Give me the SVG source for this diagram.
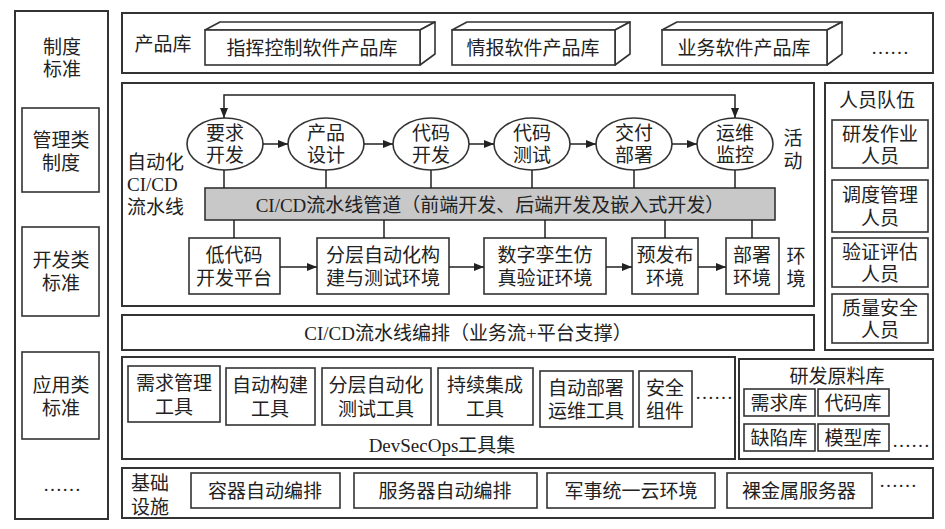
<svg xmlns="http://www.w3.org/2000/svg" width="945" height="529" viewBox="0 0 945 529">
<defs>
<marker id="ah" viewBox="0 0 10 8" refX="10" refY="4" markerWidth="10" markerHeight="8" markerUnits="userSpaceOnUse" orient="auto">
<path d="M0,0 L10,4 L0,8 Z" fill="#222"/>
</marker>
<style>
text{font-family:"Liberation Serif","Noto Sans CJK SC",serif;font-size:19px;fill:#222;text-anchor:middle;dominant-baseline:central}
.st{text-anchor:start}
.ob{fill:#fff;stroke:#333;stroke-width:2}
.ib{fill:#fff;stroke:#333;stroke-width:1.6}
.bar{fill:#c8c8c8;stroke:#333;stroke-width:1.6}
.face{fill:#fff;stroke:#333;stroke-width:1.6;stroke-linejoin:round}
.ln{fill:none;stroke:#222;stroke-width:1.5}
.ar{fill:none;stroke:#222;stroke-width:1.5;marker-end:url(#ah)}
</style>
</defs>
<rect width="945" height="529" fill="#fff"/>

<g id="standards">
<rect class="ob" x="15" y="11" width="93" height="508"/>
<text x="62" y="47">制度</text><text x="62" y="69">标准</text>
<text x="62" y="484">……</text>
</g>
<g id="mgmt-std"><rect class="ib" x="22" y="108" width="77" height="84"/><text x="61" y="140">管理类</text><text x="61" y="163">制度</text></g>
<g id="dev-std"><rect class="ib" x="22" y="227" width="77" height="89"/><text x="61" y="260">开发类</text><text x="61" y="283">标准</text></g>
<g id="app-std"><rect class="ib" x="22" y="352" width="77" height="87"/><text x="61" y="385">应用类</text><text x="61" y="408">标准</text></g>

<g id="product-lib">
<rect class="ob" x="122" y="13" width="811" height="60"/>
<text x="163" y="44">产品库</text>
<text x="890" y="47">……</text>
</g>
<g id="prod1">
<polygon class="face" points="205,30 220,22 435,22 420,30"/>
<polygon class="face" points="420,30 435,22 435,54 420,65"/>
<rect class="ib" x="205" y="30" width="215" height="35"/>
<text x="312" y="48">指挥控制软件产品库</text>
</g>
<g id="prod2">
<polygon class="face" points="452,30 467,22 630,22 615,30"/>
<polygon class="face" points="615,30 630,22 630,54 615,65"/>
<rect class="ib" x="452" y="30" width="163" height="35"/>
<text x="533" y="48">情报软件产品库</text>
</g>
<g id="prod3">
<polygon class="face" points="662,30 677,22 842,22 827,30"/>
<polygon class="face" points="827,30 842,22 842,54 827,65"/>
<rect class="ib" x="662" y="30" width="165" height="35"/>
<text x="744" y="48">业务软件产品库</text>
</g>

<g id="cicd-area">
<rect class="ob" x="122" y="83" width="692" height="223"/>
<text class="st" x="127" y="162">自动化</text>
<text class="st" x="127" y="184">CI/CD</text>
<text class="st" x="127" y="207">流水线</text>
<text x="793" y="138">活</text><text x="793" y="161">动</text>
<text x="796" y="256">环</text><text x="796" y="279">境</text>
</g>

<g id="people">
<rect class="ob" x="825" y="83" width="108" height="267"/>
<text x="877" y="100">人员队伍</text>
</g>
<g id="p1"><rect class="ib" x="832" y="120" width="96" height="48"/><text x="880" y="134">研发作业</text><text x="880" y="156">人员</text></g>
<g id="p2"><rect class="ib" x="832" y="180" width="96" height="52"/><text x="880" y="195">调度管理</text><text x="880" y="218">人员</text></g>
<g id="p3"><rect class="ib" x="832" y="238" width="96" height="49"/><text x="880" y="252">验证评估</text><text x="880" y="274">人员</text></g>
<g id="p4"><rect class="ib" x="832" y="294" width="96" height="49"/><text x="880" y="308">质量安全</text><text x="880" y="330">人员</text></g>

<g id="a1"><ellipse class="ib" cx="225" cy="144" rx="38" ry="26"/><text x="225" y="133">要求</text><text x="225" y="155">开发</text></g>
<g id="a2"><ellipse class="ib" cx="326" cy="144" rx="38" ry="26"/><text x="326" y="133">产品</text><text x="326" y="155">设计</text></g>
<g id="a3"><ellipse class="ib" cx="431" cy="144" rx="38" ry="26"/><text x="431" y="133">代码</text><text x="431" y="155">开发</text></g>
<g id="a4"><ellipse class="ib" cx="532" cy="144" rx="38" ry="26"/><text x="532" y="133">代码</text><text x="532" y="155">测试</text></g>
<g id="a5"><ellipse class="ib" cx="634" cy="144" rx="38" ry="26"/><text x="634" y="133">交付</text><text x="634" y="155">部署</text></g>
<g id="a6"><ellipse class="ib" cx="735" cy="144" rx="38" ry="26"/><text x="735" y="133">运维</text><text x="735" y="155">监控</text></g>

<g id="pipeline"><rect class="bar" x="205" y="188" width="570" height="32"/><text x="490" y="205">CI/CD流水线管道（前端开发、后端开发及嵌入式开发）</text></g>

<g id="e1"><rect class="ib" x="189" y="238" width="91" height="56"/><text x="234" y="255">低代码</text><text x="234" y="278">开发平台</text></g>
<g id="e2"><rect class="ib" x="317" y="238" width="132" height="56"/><text x="383" y="255">分层自动化构</text><text x="383" y="278">建与测试环境</text></g>
<g id="e3"><rect class="ib" x="484" y="238" width="122" height="56"/><text x="545" y="255">数字孪生仿</text><text x="545" y="278">真验证环境</text></g>
<g id="e4"><rect class="ib" x="632" y="238" width="66" height="56"/><text x="665" y="255">预发布</text><text x="665" y="278">环境</text></g>
<g id="e5"><rect class="ib" x="726" y="238" width="53" height="56"/><text x="752" y="255">部署</text><text x="752" y="278">环境</text></g>

<g id="orchestration"><rect class="ob" x="122" y="315" width="692" height="35"/><text x="468" y="333">CI/CD流水线编排（业务流+平台支撑）</text></g>

<g id="devsecops">
<rect class="ob" x="122" y="357" width="613" height="102"/>
<text x="442" y="445">DevSecOps工具集</text>
<text x="714" y="392">……</text>
</g>
<g id="t1"><rect class="ib" x="128" y="366" width="92" height="56"/><text x="174" y="383">需求管理</text><text x="174" y="407">工具</text></g>
<g id="t2"><rect class="ib" x="226" y="368" width="89" height="57"/><text x="270" y="385">自动构建</text><text x="270" y="409">工具</text></g>
<g id="t3"><rect class="ib" x="322" y="368" width="109" height="57"/><text x="376" y="385">分层自动化</text><text x="376" y="409">测试工具</text></g>
<g id="t4"><rect class="ib" x="438" y="368" width="95" height="57"/><text x="485" y="385">持续集成</text><text x="485" y="409">工具</text></g>
<g id="t5"><rect class="ib" x="540" y="371" width="93" height="56"/><text x="586" y="388">自动部署</text><text x="586" y="411">运维工具</text></g>
<g id="t6"><rect class="ib" x="639" y="371" width="53" height="56"/><text x="665" y="388">安全</text><text x="665" y="411">组件</text></g>

<g id="materials">
<rect class="ob" x="739" y="359" width="194" height="100"/>
<text x="837" y="376">研发原料库</text>
<text x="911" y="440">……</text>
</g>
<g id="m1"><rect class="ib" x="744" y="389" width="71" height="27"/><text x="779" y="403">需求库</text></g>
<g id="m2"><rect class="ib" x="818" y="389" width="71" height="27"/><text x="853" y="403">代码库</text></g>
<g id="m3"><rect class="ib" x="744" y="424" width="71" height="27"/><text x="779" y="438">缺陷库</text></g>
<g id="m4"><rect class="ib" x="818" y="424" width="71" height="27"/><text x="853" y="438">模型库</text></g>

<g id="infra">
<rect class="ob" x="122" y="468" width="811" height="50"/>
<text x="150" y="483">基础</text><text x="150" y="507">设施</text>
<text x="898" y="480">……</text>
</g>
<g id="i1"><rect class="ib" x="191" y="473" width="149" height="35"/><text x="265" y="491">容器自动编排</text></g>
<g id="i2"><rect class="ib" x="354" y="473" width="183" height="35"/><text x="445" y="491">服务器自动编排</text></g>
<g id="i3"><rect class="ib" x="547" y="473" width="168" height="35"/><text x="631" y="491">军事统一云环境</text></g>
<g id="i4"><rect class="ib" x="727" y="473" width="145" height="35"/><text x="799" y="491">裸金属服务器</text></g>

<g id="connectors">
<path class="ar" d="M480,95 H224 V118"/>
<path class="ar" d="M480,95 H735 V118"/>
<path class="ar" d="M263,144 H288"/>
<path class="ar" d="M364,144 H393"/>
<path class="ar" d="M469,144 H494"/>
<path class="ar" d="M570,144 H596"/>
<path class="ar" d="M672,144 H697"/>
<path class="ln" d="M224,170 V188 M326,170 V188 M431,170 V188 M532,170 V188 M634,170 V188 M735,170 V188"/>
<path class="ln" d="M234,220 V238 M384,220 V238 M545,220 V238 M665,220 V238 M752,220 V238"/>
<path class="ar" d="M280,267 H317"/>
<path class="ar" d="M449,267 H484"/>
<path class="ar" d="M606,267 H632"/>
<path class="ar" d="M698,267 H726"/>
</g>
</svg>
